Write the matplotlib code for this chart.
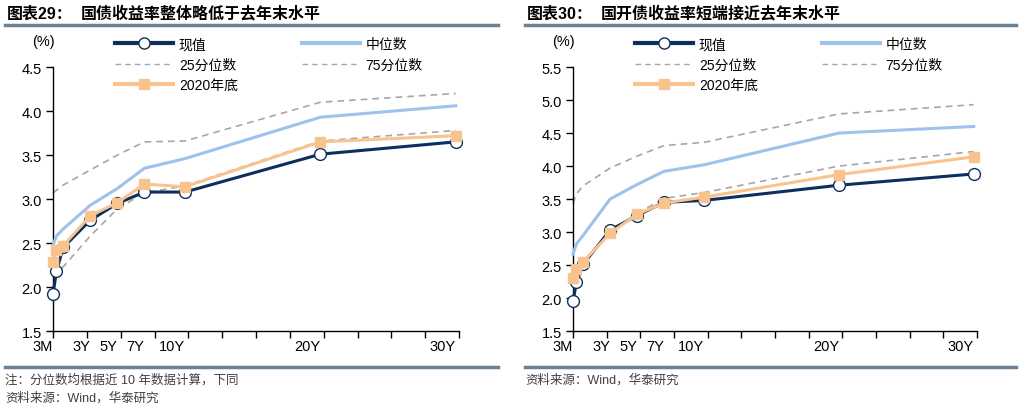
import numpy as np
import matplotlib
matplotlib.use("Agg")
import matplotlib.pyplot as plt
from matplotlib.lines import Line2D

plt.rcParams['font.family'] = ['Liberation Sans', 'Noto Sans CJK SC', 'DejaVu Sans']

# tenor in years
tenors = [0.25, 0.5, 1, 3, 5, 7, 10, 20, 30]
tick_pos = [0.25, 3, 5, 7, 10, 20, 30]
tick_labels = ['3M', '3Y', '5Y', '7Y', '10Y', '20Y', '30Y']

# 国债
gz_now = [1.92, 2.18, 2.45, 2.76, 2.95, 3.08, 3.08, 3.51, 3.65]
gz_median = [2.48, 2.58, 2.66, 2.93, 3.12, 3.35, 3.46, 3.93, 4.06]
gz_p25 = [2.13, 2.17, 2.23, 2.58, 2.89, 3.07, 3.15, 3.66, 3.78]
gz_p75 = [3.07, 3.10, 3.16, 3.33, 3.50, 3.65, 3.66, 4.10, 4.20]
gz_2020 = [2.28, 2.42, 2.47, 2.81, 2.96, 3.17, 3.14, 3.65, 3.72]

# 国开债
gk_now = [1.95, 2.24, 2.51, 3.03, 3.25, 3.45, 3.48, 3.71, 3.88]
gk_median = [2.67, 2.82, 2.95, 3.50, 3.72, 3.92, 4.02, 4.50, 4.60]
gk_p25 = [2.28, 2.40, 2.53, 3.00, 3.28, 3.51, 3.60, 4.00, 4.22]
gk_p75 = [3.43, 3.58, 3.70, 3.97, 4.15, 4.31, 4.36, 4.79, 4.93]
gk_2020 = [2.30, 2.44, 2.55, 2.98, 3.27, 3.44, 3.53, 3.87, 4.14]

NAVY = '#0d2f5e'
BLUE = '#9dc3ec'
ORANGE = '#f9c38e'
GRAY = '#a6a6a6'
RULE = '#6b8296'

fig = plt.figure(figsize=(10.24, 4.10), dpi=100)


def draw(rect, now, median, p25, p75, y2020, ylim, title_no, title):
    ax = fig.add_axes(rect)
    ax.plot(tenors, p25, color=GRAY, lw=1.2, ls=(0, (4, 3)), zorder=2)
    ax.plot(tenors, p75, color=GRAY, lw=1.2, ls=(0, (4, 3)), zorder=2)
    ax.plot(tenors, median, color=BLUE, lw=2.2, zorder=3)
    ax.plot(tenors, now, color=NAVY, lw=2.2, marker='o', ms=8.5,
            mfc='white', mec=NAVY, mew=1.0, zorder=4)
    ax.plot(tenors, y2020, color=ORANGE, lw=2.2, marker='s', ms=7,
            mfc=ORANGE, mec=ORANGE, zorder=5)
    ax.set_xlim(0.25, 30.25)
    ax.set_ylim(*ylim)
    ax.set_yticks(np.arange(ylim[0], ylim[1] + 0.01, 0.5))
    ax.yaxis.set_major_formatter(matplotlib.ticker.FormatStrFormatter('%.1f'))
    ax.xaxis.remove_overlapping_locs = False
    ax.set_xticks(np.arange(0.25, 30.26, 2.5))
    ax.set_xticklabels([])
    ax.set_xticks(tick_pos, minor=True)
    ax.set_xticklabels(tick_labels, minor=True, ha='right')
    ax.tick_params(axis='x', which='major', direction='out', length=5, width=1)
    ax.tick_params(axis='x', which='minor', length=0, pad=6, labelsize=10.5)
    ax.tick_params(axis='y', direction='out', length=5, width=1, labelsize=10.5, pad=3)
    for s in ('top', 'right'):
        ax.spines[s].set_visible(False)
    for s in ('left', 'bottom'):
        ax.spines[s].set_linewidth(1.0)
        ax.spines[s].set_color('black')
    for ln in ax.lines:
        ln.set_clip_on(False)

    x0 = rect[0]
    fig.text(x0 - 0.045, 0.966, title_no, fontsize=11.5, fontweight='bold', va='center')
    fig.text(x0 + 0.027, 0.966, title, fontsize=11.5, fontweight='bold', va='center')
    fig.text(x0 - 0.02, 0.897, '(%)', fontsize=10.5, va='center')

    handles = [
        Line2D([], [], color=NAVY, lw=3, marker='o', ms=8, mfc='white', mec=NAVY),
        Line2D([], [], color=GRAY, lw=1, ls=(0, (4, 3))),
        Line2D([], [], color=ORANGE, lw=3, marker='s', ms=7, mfc=ORANGE, mec=ORANGE),
        Line2D([], [], color=BLUE, lw=3),
        Line2D([], [], color=GRAY, lw=1, ls=(0, (4, 3))),
    ]
    labels = ['现值', '25分位数', '2020年底', '中位数', '75分位数']
    fig.legend(handles, labels, ncol=2, loc='upper left',
               bbox_to_anchor=(x0 + 0.055, 0.92), frameon=False,
               fontsize=10, handlelength=4.2, handletextpad=0.4,
               columnspacing=4.6, labelspacing=0.45, borderaxespad=0)
    return ax


draw([0.0518, 0.19, 0.3965, 0.644], gz_now, gz_median, gz_p25, gz_p75, gz_2020,
     (1.5, 4.5), '图表29：', '国债收益率整体略低于去年末水平')
draw([0.5596, 0.19, 0.3945, 0.644], gk_now, gk_median, gk_p25, gk_p75, gk_2020,
     (1.5, 5.5), '图表30：', '国开债收益率短端接近去年末水平')

# rules under titles and above notes
for xa, xb in ((0.005, 0.486), (0.513, 0.992)):
    fig.add_artist(Line2D([xa, xb], [0.937, 0.937], color=RULE, lw=2.5))
    fig.add_artist(Line2D([xa, xb], [0.102, 0.102], color=RULE, lw=2.5))

fig.text(0.005, 0.072, '注：分位数均根据近 10 年数据计算，下同', fontsize=9, color='#404040', va='center')
fig.text(0.005, 0.028, '资料来源：Wind，华泰研究', fontsize=9, color='#404040', va='center')
fig.text(0.513, 0.072, '资料来源：Wind，华泰研究', fontsize=9, color='#404040', va='center')

fig.savefig('out.png', dpi=100)
